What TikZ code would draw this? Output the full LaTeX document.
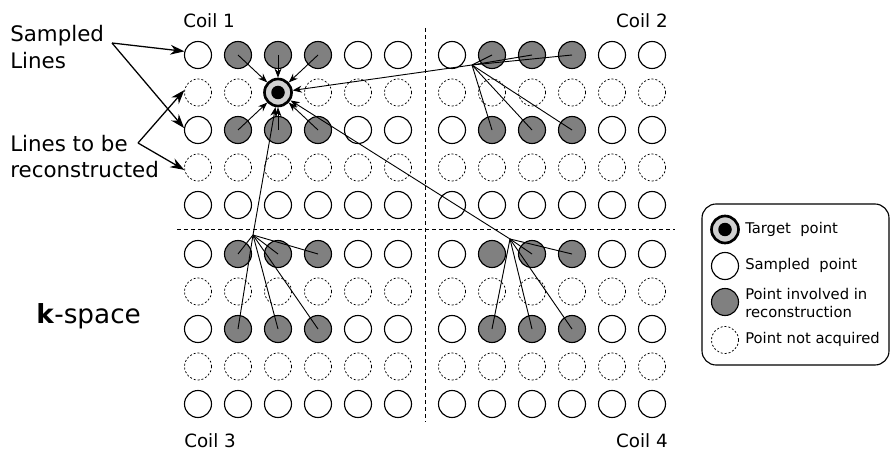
\documentclass[tikz,border=0pt]{standalone}
\usepackage{fontspec}
\setmainfont{DejaVu Sans}
\usetikzlibrary{arrows.meta}

\definecolor{ringgray}{gray}{0.82}

\tikzset{kpoint/.style={shape=circle,draw=black,line width=0.8pt,
                minimum size=0.675cm,inner sep=0pt},
        sampled/.style={kpoint,fill=white},
        involved/.style={kpoint,fill=gray},
        notacq/.style={kpoint,line width=0.55pt,dash pattern=on 1.4pt off 1.4pt},
        target/.style={kpoint,line width=1.9pt,fill=ringgray,
                path picture={\fill[black] (path picture bounding box.center) circle (4.8pt);}},
        link/.style={line width=0.65pt},
        totarget/.style={link,-{Stealth[length=6.5pt,width=5pt]}},
        pointer/.style={line width=0.9pt,-{Stealth[length=10pt,width=7pt]}},
        divider/.style={line width=0.7pt,dash pattern=on 2.8pt off 2.1pt},
        sidelabel/.style={inner sep=0pt,align=left,font=\fontsize{15.2}{19.1}\selectfont},
        coillabel/.style={inner sep=0pt,font=\fontsize{13}{15}\selectfont},
        legtext/.style={inner sep=0pt,anchor=west,align=left,font=\fontsize{10.5}{12.8}\selectfont}}

\begin{document}
\begin{tikzpicture}[x=0.025cm,y=-0.025cm]
        \useasboundingbox (0,0) rectangle (892,452);

        % quadrant dividers
        \coordinate (vtop) at (425,28);
        \coordinate (vbot) at (425,422);
        \coordinate (hleft) at (177,229);
        \coordinate (hright) at (675,229);
        \draw[divider] (vtop) -- (vbot);
        \draw[divider] (hleft) -- (hright);

        % k-space grids, one per coil
        \foreach \coil/\ox/\oy in {1/198/55, 2/452/55, 3/198/254, 4/452/254} {
          \foreach \r in {0,...,4} {
            \foreach \c in {0,...,5} {
              \def\sty{sampled}
              \ifodd\r \def\sty{notacq}\fi
              \ifnum\r<4 \ifnum\c>0 \ifnum\c<4 \ifodd\r\else\def\sty{involved}\fi\fi\fi\fi
              \ifnum\coil=1 \ifnum\r=1 \ifnum\c=2 \def\sty{target}\fi\fi\fi
              \node[\sty] (c\coil-\r-\c) at ({\ox+40*\c},{\oy+37.5*\r}) {};
            }
          }
        }

        % neighbours in coil 1
        \foreach \r/\c in {0/1,0/2,0/3,2/1,2/2,2/3}
          \draw[totarget] (c1-\r-\c.center) -- (c1-1-2);

        % contributions from the other coils
        \coordinate (h2) at (472,65);
        \coordinate (h3) at (253,235);
        \coordinate (h4) at (510,239);
        \foreach \r/\c in {0/1,0/2,0/3,2/1,2/2,2/3}
          \draw[link] (h2) -- (c2-\r-\c.center);
        \foreach \r/\c in {0/1,0/2,0/3,2/1,2/2,2/3}
          \draw[link] (h3) -- (c3-\r-\c.center);
        \foreach \r/\c in {0/2,0/3,2/1,2/2,2/3}
          \draw[link] (h4) -- (c4-\r-\c.center);
        \draw[totarget] (h2) -- (c1-1-2);
        \draw[totarget] (h3) -- (c1-1-2);
        \draw[totarget] (h4) -- (c1-1-2);

        % labels
        \node[coillabel,anchor=base west] (coil1) at (183,28) {Coil 1};
        \node[coillabel,anchor=base east] (coil2) at (668,28) {Coil 2};
        \node[coillabel,anchor=base west] (coil3) at (184,447) {Coil 3};
        \node[coillabel,anchor=base east] (coil4) at (668,447) {Coil 4};
        \node[inner sep=0pt,anchor=base west,font=\fontsize{18.7}{22}\selectfont] (kspace)
                at (36,323) {\textbf{k}-space};

        \node[sidelabel,anchor=west] (sampledlines) at (10,47) {Sampled\\Lines};
        \node[sidelabel,anchor=west] (recolines) at (10,156.5) {Lines to be\\reconstructed};
        \coordinate (sl) at (112,43);
        \coordinate (rl) at (138,143);
        \draw[pointer] (sl) -- (c1-0-0.165);
        \draw[pointer] (sl) -- (c1-2-0.172);
        \draw[pointer] (rl) -- (c1-1-0.170);
        \draw[pointer] (rl) -- (c1-3-0.190);

        % legend
        \draw[line width=0.8pt,rounded corners=10pt] (702,204) rectangle (889,365);
        \node[target] (lgtarget) at (725,229.5) {};
        \node[sampled] (lgsampled) at (725,266) {};
        \node[involved] (lginvolved) at (725,302) {};
        \node[notacq] (lgnotacq) at (725,340) {};
        \node[legtext] at (745,229) {Target\ \ point};
        \node[legtext] at (745,265) {Sampled\ \ point};
        \node[legtext] at (745,303) {Point involved in\\reconstruction};
        \node[legtext] at (745,339) {Point not acquired};
      \end{tikzpicture}
\end{document}
